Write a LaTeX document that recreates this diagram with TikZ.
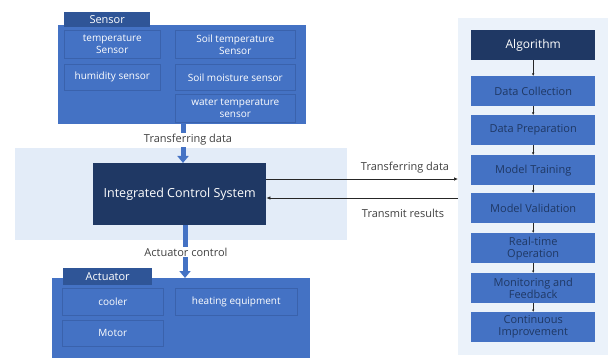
\documentclass[tikz,border=0pt]{standalone}
\usepackage{fontspec}
\setmainfont{Open Sans}
\usetikzlibrary{arrows.meta,calc}
\definecolor{midblue}{HTML}{4472C4}
\definecolor{navy}{HTML}{1F3864}
\definecolor{tabblue}{HTML}{2F5597}
\definecolor{lightband}{HTML}{E3ECF8}
\definecolor{innerline}{HTML}{3A62AC}
\definecolor{txtgray}{HTML}{404040}
\begin{document}
\begin{tikzpicture}[x=1pt,y=-1pt,
  outerbox/.style={fill=midblue,draw=none,anchor=north west,inner sep=0},
  tabbox/.style={fill=tabblue,text=white,anchor=north west,inner sep=0,font=\fontsize{11}{12}\selectfont},
  innerbox/.style={draw=innerline,line width=0.6pt,fill=midblue,text=white,anchor=north west,inner sep=0,align=center,font=\fontsize{10}{12}\selectfont},
  stepbox/.style={fill=midblue,text=navy,anchor=north west,inner sep=0,minimum width=124,minimum height=30,align=center,font=\fontsize{11}{12}\selectfont},
  darkbox/.style={fill=navy,text=white,anchor=north west,inner sep=0,align=center},
  fat/.style={draw=midblue,line width=5pt,-{Triangle[width=11pt,length=7pt]}},
  lbl/.style={text=txtgray,font=\fontsize{11}{12}\selectfont,fill=white,inner sep=1pt},
  link/.style={draw=black!85,line width=0.7pt},
  small/.style={draw=black!85,line width=0.6pt,-{Latex[length=2.5pt,width=2.5pt]}}
]
\useasboundingbox (0,0) rectangle (610,358);
% background panels
\node[fill=lightband,anchor=north west,inner sep=0,minimum width=332,minimum height=92] (band) at (15,148) {};
\node[fill=lightband!70!white,anchor=north west,inner sep=0,minimum width=150,minimum height=337] (panel) at (458,18) {};

% Sensor group
\node[outerbox,minimum width=248,minimum height=99] (sensorbox) at (58,25) {};
\node[tabbox,minimum width=86,minimum height=15] (sensortab) at (64,12) {Sensor};
\node[innerbox,minimum width=96,minimum height=28] (ts) at (64,30) {temperature\\Sensor};
\node[innerbox,minimum width=120,minimum height=28] (sts) at (175,30) {Soil temperature\\Sensor};
\node[innerbox,minimum width=96,minimum height=26] (hs) at (64,64) {humidity sensor};
\node[innerbox,minimum width=120,minimum height=26] (sms) at (175,64) {Soil moisture sensor};
\node[innerbox,minimum width=120,minimum height=28] (wts) at (175,94) {water temperature\\sensor};

% Integrated control system
\node[darkbox,minimum width=173,minimum height=62,font=\fontsize{12.5}{14}\selectfont] (ics) at (93,163) {Integrated Control System};

% Actuator group
\node[outerbox,minimum width=258,minimum height=80] (actbox) at (52,278) {};
\node[tabbox,minimum width=89,minimum height=17] (acttab) at (63,268) {Actuator};
\node[innerbox,minimum width=101,minimum height=27] (cooler) at (62,288) {cooler};
\node[innerbox,minimum width=122,minimum height=27] (heat) at (175,288) {heating equipment};
\node[innerbox,minimum width=101,minimum height=26] (motor) at (62,320) {Motor};

% fat arrows
\draw[fat] (sensorbox.south -| 183,0) -- (ics.north -| 183,0);
\node[lbl] (tdlbl) at (188,140) {Transferring data};
\draw[fat] (ics.south -| 185,0) -- (actbox.north -| 185,0);
\node[lbl] (aclbl) at (186,252) {Actuator control};

% algorithm column
\node[darkbox,minimum width=124,minimum height=30,font=\fontsize{12}{13}\selectfont] (alg) at (471,30) {Algorithm};
\node[stepbox] (s1) at (471,76) {Data Collection};
\node[stepbox] (s2) at (471,115) {Data Preparation};
\node[stepbox] (s3) at (471,155) {Model Training};
\node[stepbox] (s4) at (471,193) {Model Validation};
\node[stepbox] (s5) at (471,233) {Real-time\\Operation};
\node[stepbox] (s6) at (471,273) {Monitoring and\\Feedback};
\node[stepbox] (s7) at (471,312) {Continuous\\Improvement};
\foreach \a/\b in {alg/s1,s1/s2,s2/s3,s3/s4,s4/s5,s5/s6,s6/s7}
  \draw[small] (\a.south) -- (\b.north);

% links between ICS and algorithm panel
\draw[link,-{Latex[length=4pt,width=3.5pt]}] (ics.east |- 0,179) -- (panel.west |- 0,179);
\draw[link,-{Latex[length=4pt,width=3.5pt]}] (panel.west |- 0,198) -- (ics.east |- 0,198);
\node[text=txtgray,font=\fontsize{11}{12}\selectfont] (tdlbl2) at (405,168) {Transferring data};
\node[text=txtgray,font=\fontsize{11}{12}\selectfont] (trlbl) at (403,213) {Transmit results};
\end{tikzpicture}
\end{document}
